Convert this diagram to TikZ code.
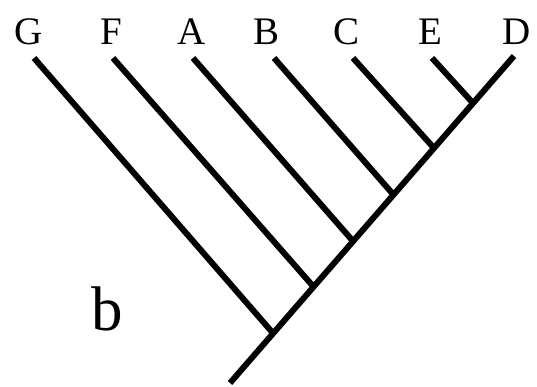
\documentclass[tikz,border=0pt]{standalone}
\usepackage{fontspec}
\setmainfont{Liberation Serif}
\usepackage{tikz}
\usetikzlibrary{positioning}
\tikzstyle{taxon} = [anchor=base, inner sep=0pt, font=\fontsize{39}{39}\selectfont]
\tikzstyle{branch} = [line width=6pt, line cap=butt]

\begin{document}
\begin{tikzpicture}[x=1pt, y=-1pt]
    \useasboundingbox (0,0) rectangle (537,386);
    \node (g) [taxon] at (29,44) {G};
    \node (f) [taxon] at (111,44) {F};
    \node (a) [taxon] at (192,44) {A};
    \node (b) [taxon] at (267,44) {B};
    \node (c) [taxon] at (346,44) {C};
    \node (e) [taxon] at (430,44) {E};
    \node (d) [taxon] at (517,44) {D};
    \node (lab) [anchor=base, inner sep=0pt, font=\fontsize{63}{63}\selectfont] at (107,330) {b};

    \coordinate (tg) at (34,58);
    \coordinate (tf) at (113,58);
    \coordinate (ta) at (193,58);
    \coordinate (tb) at (274,58);
    \coordinate (tc) at (353,58);
    \coordinate (te) at (432,58);
    \coordinate (td) at (514,56);
    \coordinate (root) at (230,383);
    \coordinate (jg) at (272,332);
    \coordinate (jf) at (312,285);
    \coordinate (ja) at (352,240);
    \coordinate (jb) at (392,193);
    \coordinate (jc) at (433,147);
    \coordinate (je) at (472,102);

    \draw [branch] (root) -- (td);
    \draw [branch] (tg) -- (jg);
    \draw [branch] (tf) -- (jf);
    \draw [branch] (ta) -- (ja);
    \draw [branch] (tb) -- (jb);
    \draw [branch] (tc) -- (jc);
    \draw [branch] (te) -- (je);
\end{tikzpicture}
\end{document}
